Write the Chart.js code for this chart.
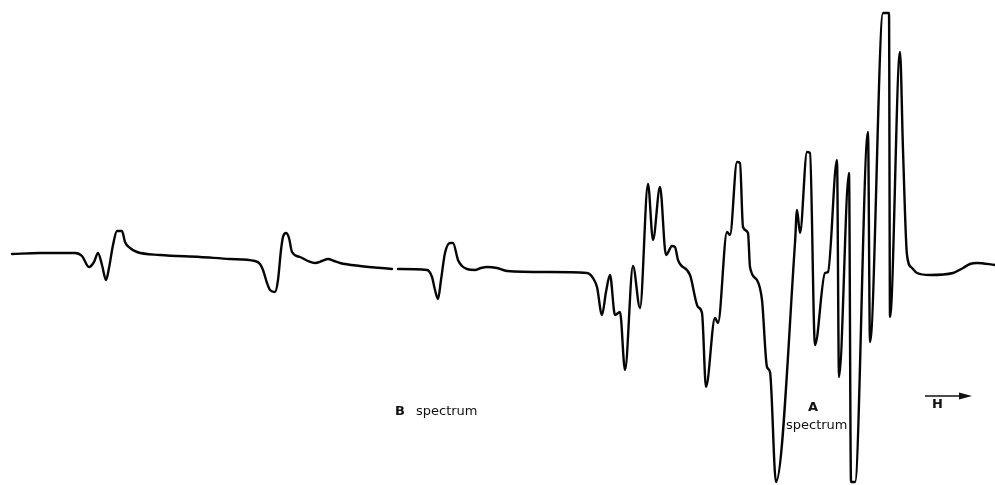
<!DOCTYPE html>
<html>
<head>
<meta charset="utf-8">
<script src="https://cdn.jsdelivr.net/npm/chart.js@4/dist/chart.umd.min.js"></script>
<style>
  html, body { margin: 0; padding: 0; background: #ffffff; }
  #wrap { width: 995px; height: 485px; }
</style>
</head>
<body>
<div id="wrap"><canvas id="esr" width="995" height="485"></canvas></div>
<script>
// Magnetic field sweep (arbitrary units, increasing to the right)
const fieldValues = [
  12, 40, 75, 82, 89, 94, 98, 102, 106, 109, 113, 117, 122, 125, 130, 137, 160, 200,
  230, 255, 260, 263, 267, 270, 275, 278, 281, 283, 286, 289, 292, 300, 308, 315, 322, 328, 334, 340, 360, 392,
  395,
  398, 427, 432, 435, 438, 441, 445, 450, 453, 458, 462, 467, 475, 481, 487, 497, 507, 547, 587,
  593, 597, 602, 606, 610, 615, 620, 625, 633, 640, 648, 653, 660, 666, 672, 675, 678, 690, 698, 702, 706,
  715, 718, 727, 730, 737, 740, 743, 748, 750, 757, 762, 767, 770, 776,
  795, 797, 800, 807, 810, 815, 825, 828, 837, 839, 849, 851, 855, 868, 870, 883, 889, 890, 900, 903,
  907, 912, 917, 930, 953, 963, 970, 977, 995
];

// First-derivative absorption signal (arbitrary units, 0 = baseline)
const signalValues = [
  0, 1, 1, -2, -13, -8, 1, -11, -26, -14, 9, 23, 23, 12, 6, 2, -1, -3,
  -5, -7, -10, -16, -29, -36, -38, -26, 4, 17, 21, 16, 2, -3, -7, -9, -7, -5, -7, -9, -12, -15,
  null,
  -15, -16, -23, -36, -45, -26, 1, 11, 11, -6, -12, -15, -16, -14, -13, -14, -17, -18, -19,
  -24, -33, -61, -38, -21, -61, -58, -116, -12, -54, 70, 14, 67, -1, 8, 7, -6, -21, -53, -59, -133,
  -64, -69, 22, 19, 92, 91, 27, 21, -13, -26, -46, -113, -118, -228,
  11, 44, 21, 102, 101, -91, -19, -18, 94, -123, 81, -228, -228, 122, -88, 241, 241, -63, 202, 104,
  -1, -14, -19, -21, -19, -14, -10, -9, -11
];

// Captions placed in data coordinates
const captionTexts = ['B', 'spectrum', 'A', 'spectrum', 'H'];
const captionFields = [395, 416, 808, 786, 932];
const captionSignals = [-158, -158, -154, -172, -151];
const captionBold = [true, false, true, false, true];

// Field direction arrow: from field, to field, at signal
const arrowFields = [925, 972];
const arrowSignal = -142;

const points = fieldValues.map((x, i) => ({ x: x, y: signalValues[i] }));

const captionPlugin = {
  id: 'captions',
  afterDraw(chart) {
    const ctx = chart.ctx;
    const xs = chart.scales.x, ys = chart.scales.y;
    ctx.save();
    ctx.fillStyle = '#111';
    ctx.textBaseline = 'middle';
    ctx.textAlign = 'left';
    captionTexts.forEach((t, i) => {
      ctx.font = (captionBold[i] ? 'bold ' : '') + '13px "DejaVu Sans", sans-serif';
      ctx.fillText(t, xs.getPixelForValue(captionFields[i]), ys.getPixelForValue(captionSignals[i]));
    });
    // arrow pointing toward increasing field
    const x0 = xs.getPixelForValue(arrowFields[0]);
    const x1 = xs.getPixelForValue(arrowFields[1]);
    const ay = ys.getPixelForValue(arrowSignal);
    ctx.strokeStyle = '#111';
    ctx.lineWidth = 1.6;
    ctx.beginPath();
    ctx.moveTo(x0, ay);
    ctx.lineTo(x1 - 8, ay);
    ctx.stroke();
    ctx.beginPath();
    ctx.moveTo(x1, ay);
    ctx.lineTo(x1 - 13, ay - 3.5);
    ctx.lineTo(x1 - 13, ay + 3.5);
    ctx.closePath();
    ctx.fill();
    ctx.restore();
  }
};

new Chart(document.getElementById('esr'), {
  type: 'line',
  data: {
    datasets: [{
      data: points,
      borderColor: '#050505',
      borderWidth: 2.4,
      pointRadius: 0,
      fill: false,
      spanGaps: false,
      cubicInterpolationMode: 'monotone',
      borderJoinStyle: 'round',
      borderCapStyle: 'round'
    }]
  },
  options: {
    responsive: false,
    animation: false,
    layout: { padding: 0 },
    plugins: { legend: { display: false }, tooltip: { enabled: false } },
    scales: {
      x: { type: 'linear', display: false, min: 0, max: 995 },
      y: { type: 'linear', display: false, min: -231, max: 254 }
    }
  },
  plugins: [captionPlugin]
});
</script>
</body>
</html>
